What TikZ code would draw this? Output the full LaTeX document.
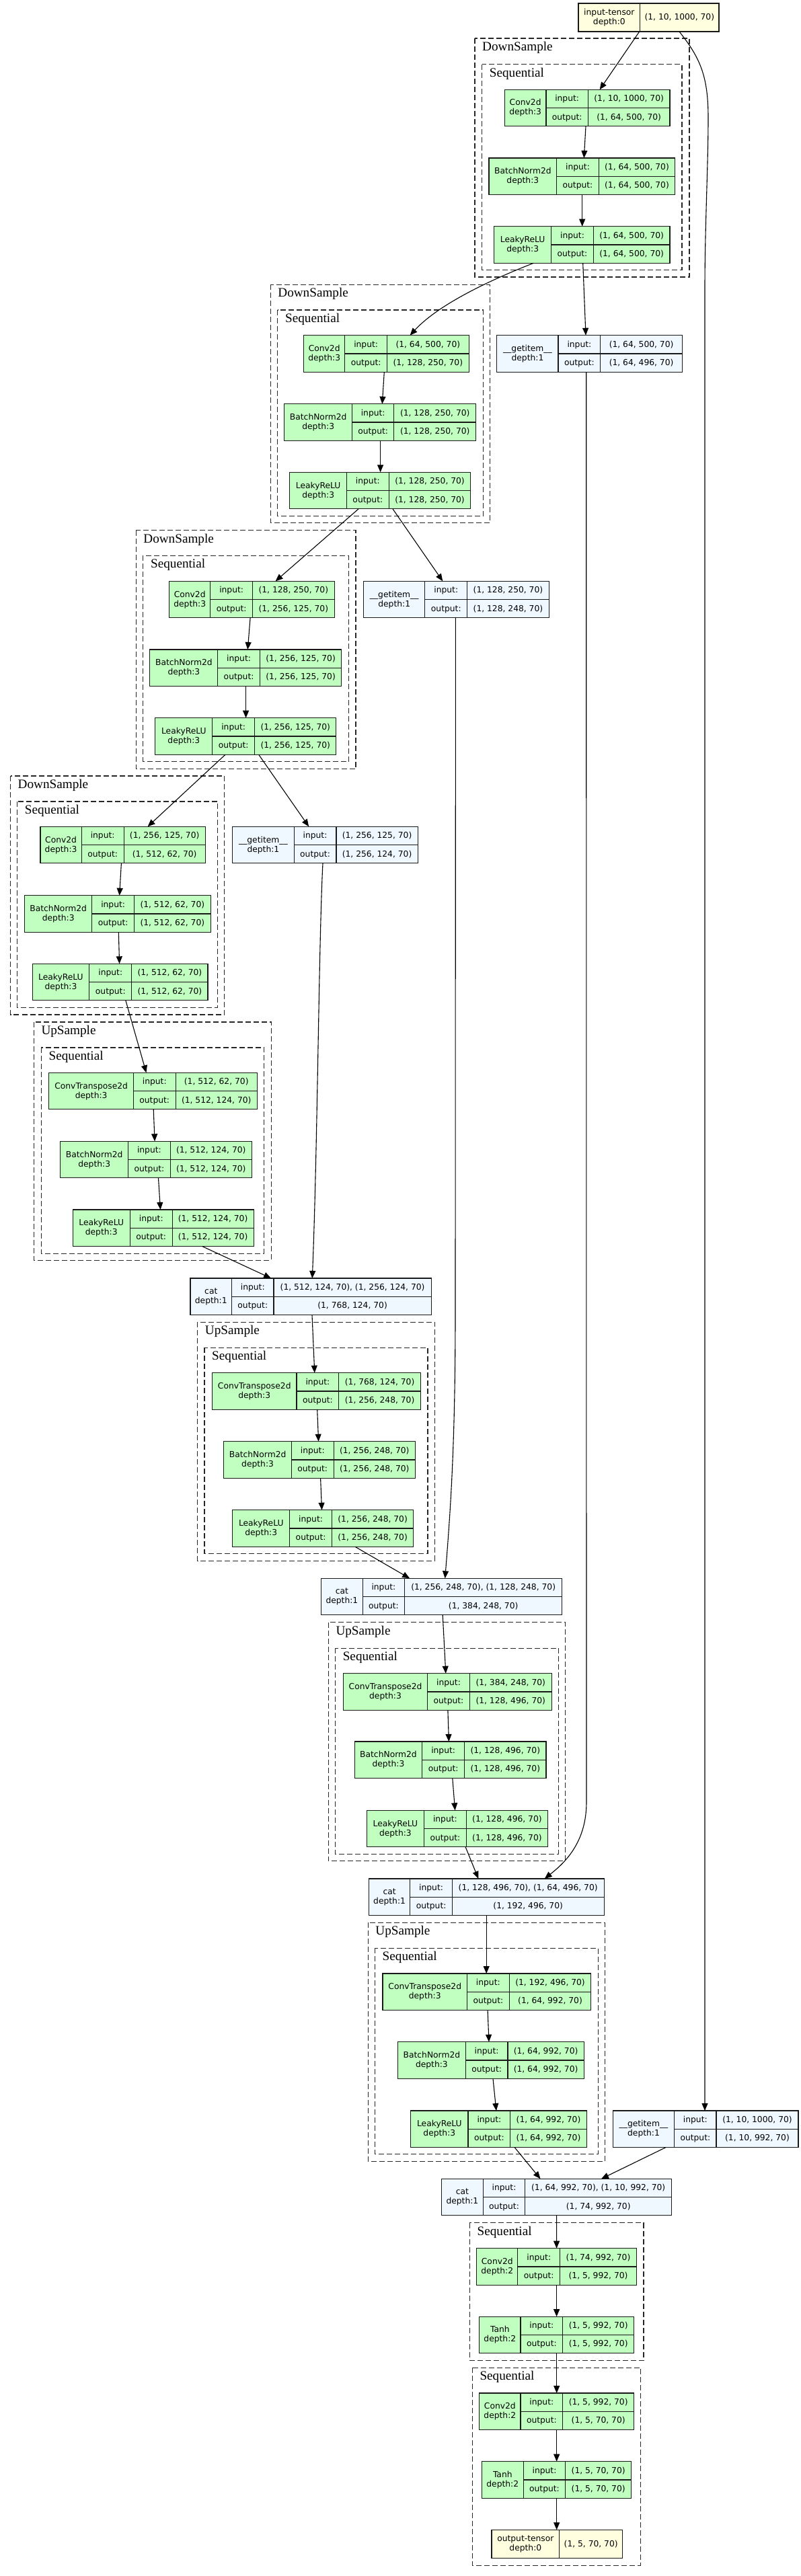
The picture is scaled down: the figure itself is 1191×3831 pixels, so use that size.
\documentclass[tikz,border=0pt]{standalone}
\usepackage{fontspec}
\newfontfamily\tvsans{DejaVu Sans}
\newfontfamily\tvserif{Liberation Serif}
\usetikzlibrary{arrows.meta}
\definecolor{tvgreen}{HTML}{C1FFC1}
\definecolor{tvblue}{HTML}{F0F8FF}
\definecolor{tvyellow}{HTML}{FFFFE0}
\tikzset{
 box/.style={draw=black!90, line width=1.1pt, inner sep=0pt, outer sep=0pt},
 divl/.style={draw=black!90, line width=1.1pt},
 txt/.style={font=\tvsans\fontsize{12.3}{14}\selectfont, inner sep=0pt, text height=9.3pt, text depth=1.7pt},
 ttl/.style={font=\tvsans\fontsize{12.3}{14}\selectfont, inner sep=0pt, align=center},
 clus/.style={draw=black!85, line width=1.05pt, dash pattern=on 8pt off 4pt},
 clab/.style={font=\tvserif\fontsize{19.2}{22}\selectfont, inner sep=0pt, anchor=base west},
 conn/.style={line width=1.1pt, -{Triangle[length=11pt,width=9pt]}},
}
\def\tvP#1,#2,#3,#4\relax{\def\tvxL{#1}\def\tvdA{#2}\def\tvdB{#3}\def\tvxR{#4}}
\def\tvQ#1,#2,#3\relax{\def\tvxL{#1}\def\tvdA{#2}\def\tvxR{#3}}
% name, fill, xL,d1,d2,xR, yT, title, in, out
\newcommand{\tvbox}[7]{%
 \tvP#3\relax
 \pgfmathsetmacro\tvW{\tvxR-\tvxL}%
 \pgfmathsetmacro\tvcA{(\tvxL+\tvdA)/2}%
 \pgfmathsetmacro\tvcB{(\tvdA+\tvdB)/2}%
 \pgfmathsetmacro\tvcC{(\tvdB+\tvxR)/2}%
 \node[box, fill=#2, minimum width=\tvW pt, minimum height=54.6pt, anchor=north west] (#1) at (\tvxL,#4) {};
 \draw[divl] (\tvdA,#4) -- ++(0,54.6);
 \draw[divl] (\tvdB,#4) -- ++(0,54.6);
 \draw[divl] (\tvdA,{#4+27.3}) -- (\tvxR,{#4+27.3});
 \node[ttl] (#1-t) at (\tvcA,{#4+27.3}) {#5};
 \node[txt] (#1-il) at (\tvcB,{#4+13.65}) {input:};
 \node[txt] (#1-ol) at (\tvcB,{#4+40.95}) {output:};
 \node[txt] (#1-iv) at (\tvcC,{#4+13.65}) {#6};
 \node[txt] (#1-ov) at (\tvcC,{#4+40.95}) {#7};
}
% name, xL,d,xR, yT, title, value
\newcommand{\tvio}[5]{%
 \tvQ#2\relax
 \pgfmathsetmacro\tvW{\tvxR-\tvxL}%
 \pgfmathsetmacro\tvcA{(\tvxL+\tvdA)/2}%
 \pgfmathsetmacro\tvcC{(\tvdA+\tvxR)/2}%
 \node[box, fill=tvyellow, minimum width=\tvW pt, minimum height=42pt, anchor=north west] (#1) at (\tvxL,#3) {};
 \draw[divl] (\tvdA,#3) -- ++(0,42);
 \node[ttl] (#1-t) at (\tvcA,{#3+21}) {#4};
 \node[txt] (#1-v) at (\tvcC,{#3+21}) {#5};
}
% name, l, t, r, b, label
\newcommand{\tvclus}[6]{%
 \draw[clus] (#2,#3) rectangle (#4,#5);
 \node[clab] (#1) at ({#2+11},{#3+18.5}) {#6};
}
\begin{document}
\begin{tikzpicture}[x=1pt,y=-1pt]
\useasboundingbox[fill=white] (0,0) rectangle (1191,3831);

% clusters
\tvclus{ds1}{706}{57}{1025}{412}{DownSample}
\tvclus{ds1s}{716.7}{95.7}{1014}{401.7}{Sequential}
\tvclus{ds2}{402.2}{423.3}{728.2}{777.7}{DownSample}
\tvclus{ds2s}{412.9}{461}{718.3}{767.7}{Sequential}
\tvclus{ds3}{202.2}{788.7}{529}{1143.3}{DownSample}
\tvclus{ds3s}{212.9}{826.3}{518.3}{1132.7}{Sequential}
\tvclus{ds4}{15.5}{1154}{333.9}{1509}{DownSample}
\tvclus{ds4s}{25.7}{1192}{323.7}{1498.7}{Sequential}
\tvclus{up1}{50.3}{1520}{403.1}{1874.3}{UpSample}
\tvclus{up1s}{61.4}{1558}{392.8}{1864}{Sequential}
\tvclus{up2}{293.7}{1966}{646.4}{2321.3}{UpSample}
\tvclus{up2s}{304}{2004.3}{636}{2310.7}{Sequential}
\tvclus{up3}{488.3}{2412.7}{840.7}{2767.7}{UpSample}
\tvclus{up3s}{498.6}{2451}{830.3}{2757.3}{Sequential}
\tvclus{up4}{547.2}{2859.3}{899.4}{3214.3}{UpSample}
\tvclus{up4s}{557.5}{2897}{889.2}{3203.7}{Sequential}
\tvclus{sq5}{698.4}{3305.7}{957}{3510.3}{Sequential}
\tvclus{sq6}{702.3}{3521}{952.7}{3815}{Sequential}

% nodes
\tvio{intensor}{860,951.7,1069}{5}{input-tensor\\depth:0}{(1, 10, 1000, 70)}
\tvbox{c1}{tvgreen}{750.3,812,874.3,996}{133.3}{Conv2d\\depth:3}{(1, 10, 1000, 70)}{(1, 64, 500, 70)}
\tvbox{b1}{tvgreen}{727,827.7,890.3,1003.7}{235}{BatchNorm2d\\depth:3}{(1, 64, 500, 70)}{(1, 64, 500, 70)}
\tvbox{l1}{tvgreen}{734.7,819.7,882.3,996}{336.7}{LeakyReLU\\depth:3}{(1, 64, 500, 70)}{(1, 64, 500, 70)}

\tvbox{c2}{tvgreen}{451.6,512.8,575.5,697.2}{498.7}{Conv2d\\depth:3}{(1, 64, 500, 70)}{(1, 128, 250, 70)}
\tvbox{b2}{tvgreen}{422.9,523.5,585.9,707.6}{600.7}{BatchNorm2d\\depth:3}{(1, 128, 250, 70)}{(1, 128, 250, 70)}
\tvbox{l2}{tvgreen}{430.9,515.5,578.2,699.9}{702.3}{LeakyReLU\\depth:3}{(1, 128, 250, 70)}{(1, 128, 250, 70)}
\tvbox{g1}{tvblue}{738.9,830,892.8,1014.4}{498.7}{\_\_getitem\_\_\\depth:1}{(1, 64, 500, 70)}{(1, 64, 496, 70)}

\tvbox{c3}{tvgreen}{251.6,312.8,375.5,497.2}{864.3}{Conv2d\\depth:3}{(1, 128, 250, 70)}{(1, 256, 125, 70)}
\tvbox{b3}{tvgreen}{222.9,323.9,386.3,507.9}{966}{BatchNorm2d\\depth:3}{(1, 256, 125, 70)}{(1, 256, 125, 70)}
\tvbox{l3}{tvgreen}{230.9,315.8,378.6,499.9}{1067.7}{LeakyReLU\\depth:3}{(1, 256, 125, 70)}{(1, 256, 125, 70)}
\tvbox{g2}{tvblue}{540.5,631.9,694.7,816.2}{864.3}{\_\_getitem\_\_\\depth:1}{(1, 128, 250, 70)}{(1, 128, 248, 70)}

\tvbox{c4}{tvgreen}{60,121.2,184.1,305.3}{1229.3}{Conv2d\\depth:3}{(1, 256, 125, 70)}{(1, 512, 62, 70)}
\tvbox{b4}{tvgreen}{36.7,136.7,199.6,313.1}{1331.7}{BatchNorm2d\\depth:3}{(1, 512, 62, 70)}{(1, 512, 62, 70)}
\tvbox{l4}{tvgreen}{48.2,132.7,195.9,309}{1433.3}{LeakyReLU\\depth:3}{(1, 512, 62, 70)}{(1, 512, 62, 70)}
\tvbox{g3}{tvblue}{345.7,437.1,500,621.2}{1229.3}{\_\_getitem\_\_\\depth:1}{(1, 256, 125, 70)}{(1, 256, 124, 70)}

\tvbox{t1}{tvgreen}{72.9,198.4,261.1,382.4}{1595.3}{ConvTranspose2d\\depth:3}{(1, 512, 62, 70)}{(1, 512, 124, 70)}
\tvbox{b5}{tvgreen}{89.7,190.7,253.1,374.4}{1697.3}{BatchNorm2d\\depth:3}{(1, 512, 124, 70)}{(1, 512, 124, 70)}
\tvbox{l5}{tvgreen}{108.1,193.4,256.1,377.1}{1799}{LeakyReLU\\depth:3}{(1, 512, 124, 70)}{(1, 512, 124, 70)}

\tvbox{cat1}{tvblue}{283,344.6,407,641.2}{1901}{cat\\depth:1}{(1, 512, 124, 70), (1, 256, 124, 70)}{(1, 768, 124, 70)}

\tvbox{t2}{tvgreen}{315.5,441,503.8,625.5}{2041.7}{ConvTranspose2d\\depth:3}{(1, 768, 124, 70)}{(1, 256, 248, 70)}
\tvbox{b6}{tvgreen}{332.8,433.4,496.1,617.4}{2143.7}{BatchNorm2d\\depth:3}{(1, 256, 248, 70)}{(1, 256, 248, 70)}
\tvbox{l6}{tvgreen}{345.8,430.7,493.5,614.8}{2245.7}{LeakyReLU\\depth:3}{(1, 256, 248, 70)}{(1, 256, 248, 70)}

\tvbox{cat2}{tvblue}{477.6,539.2,601.6,835.8}{2347.3}{cat\\depth:1}{(1, 256, 248, 70), (1, 128, 248, 70)}{(1, 384, 248, 70)}

\tvbox{t3}{tvgreen}{510.5,635.6,698.4,820.1}{2488.7}{ConvTranspose2d\\depth:3}{(1, 384, 248, 70)}{(1, 128, 496, 70)}
\tvbox{b7}{tvgreen}{527.3,627.6,690.7,812}{2590}{BatchNorm2d\\depth:3}{(1, 128, 496, 70)}{(1, 128, 496, 70)}
\tvbox{l7}{tvgreen}{545.3,630.5,693.3,814.6}{2692.3}{LeakyReLU\\depth:3}{(1, 128, 496, 70)}{(1, 128, 496, 70)}

\tvbox{cat3}{tvblue}{548.3,609.9,672.3,898.1}{2794}{cat\\depth:1}{(1, 128, 496, 70), (1, 64, 496, 70)}{(1, 192, 496, 70)}

\tvbox{t4}{tvgreen}{569,694.5,757.2,878.9}{2935}{ConvTranspose2d\\depth:3}{(1, 192, 496, 70)}{(1, 64, 992, 70)}
\tvbox{b8}{tvgreen}{591.6,692.2,755,868.2}{3036.7}{BatchNorm2d\\depth:3}{(1, 64, 992, 70)}{(1, 64, 992, 70)}
\tvbox{l8}{tvgreen}{610.7,696,758.8,872.3}{3139}{LeakyReLU\\depth:3}{(1, 64, 992, 70)}{(1, 64, 992, 70)}
\tvbox{g4}{tvblue}{911.3,1002.7,1065,1187}{3139}{\_\_getitem\_\_\\depth:1}{(1, 10, 1000, 70)}{(1, 10, 992, 70)}

\tvbox{cat4}{tvblue}{656.6,718.2,780.9,998.6}{3240.3}{cat\\depth:1}{(1, 64, 992, 70), (1, 10, 992, 70)}{(1, 74, 992, 70)}

\tvbox{c5}{tvgreen}{708.9,769.7,832.8,946.3}{3343.7}{Conv2d\\depth:2}{(1, 74, 992, 70)}{(1, 5, 992, 70)}
\tvbox{t5}{tvgreen}{712.7,774,836.7,942.7}{3445.2}{Tanh\\depth:2}{(1, 5, 992, 70)}{(1, 5, 992, 70)}
\tvbox{c6}{tvgreen}{712.7,774,836.7,942.7}{3559}{Conv2d\\depth:2}{(1, 5, 992, 70)}{(1, 5, 70, 70)}
\tvbox{t6}{tvgreen}{716.3,778.3,840.7,938.7}{3660.7}{Tanh\\depth:2}{(1, 5, 70, 70)}{(1, 5, 70, 70)}
\tvio{outtensor}{731,831.7,925.7}{3762.3}{output-tensor\\depth:0}{(1, 5, 70, 70)}

% connectors
\draw[conn] ([xshift=90.7pt]intensor.south west) -- ([xshift=141.4pt]c1.north west);
\coordinate (k1) at (1053,175);
\coordinate (k2) at (1048,430);
\draw[conn] ([xshift=150pt]intensor.south west) .. controls +(32,40) and +(0,-60) .. (k1)
  .. controls +(0,70) and +(0,-90) .. (k2) -- ([xshift=136.7pt]g4.north west);
\draw[conn] ([xshift=120.7pt]c1.south west) -- ([xshift=141.3pt]b1.north west);
\draw[conn] ([xshift=138.7pt]b1.south west) -- ([xshift=131pt]l1.north west);
\draw[conn] ([xshift=58.6pt]l1.south west) .. controls +(-73.3,28.7) and +(40.4,-43.7) .. ([xshift=158pt]c2.north west);
\draw[conn] ([xshift=132pt]l1.south west) -- ([xshift=132.1pt]g1.north west);

\draw[conn] ([xshift=119.7pt]c2.south west) -- ([xshift=145.4pt]b2.north west);
\draw[conn] ([xshift=142.7pt]b2.south west) -- ([xshift=134.7pt]l2.north west);
\draw[conn] ([xshift=102.1pt]l2.south west) -- ([xshift=158pt]c3.north west);
\draw[conn] ([xshift=153.1pt]l2.south west) -- ([xshift=117.8pt]g2.north west);
\coordinate (k3) at (872,2680);
\draw[conn] ([xshift=132.8pt]g1.south west) -- (k3) .. controls +(0,60) and +(30.3,-24) .. ([xshift=261.4pt]cat3.north west);

\draw[conn] ([xshift=120.5pt]c3.south west) -- ([xshift=145.4pt]b3.north west);
\draw[conn] ([xshift=142.7pt]b3.south west) -- ([xshift=134.7pt]l3.north west);
\draw[conn] ([xshift=104.1pt]l3.south west) -- ([xshift=159.6pt]c4.north west);
\draw[conn] ([xshift=153.8pt]l3.south west) -- ([xshift=113.5pt]g3.north west);
\coordinate (k4) at (677,1950);
\draw[conn] ([xshift=136.9pt]g2.south west) -- (k4) .. controls +(0,200) and +(8,-100) .. ([xshift=184.1pt]cat2.north west);

\draw[conn] ([xshift=120.4pt]c4.south west) -- ([xshift=140.9pt]b4.north west);
\draw[conn] ([xshift=139.6pt]b4.south west) -- ([xshift=129.4pt]l4.north west);
\draw[conn] ([xshift=138.7pt]l4.south west) -- ([xshift=144.6pt]t1.north west);
\draw[conn] ([xshift=134.3pt]g3.south west) .. controls +(-6,115) and +(8,-200) .. ([xshift=181.3pt]cat1.north west);

\draw[conn] ([xshift=155.3pt]t1.south west) -- ([xshift=140.4pt]b5.north west);
\draw[conn] ([xshift=145.8pt]b5.south west) -- ([xshift=130.4pt]l5.north west);
\draw[conn] ([xshift=192.8pt]l5.south west) -- ([xshift=120.1pt]cat1.north west);

\draw[conn] ([xshift=181pt]cat1.south west) -- ([xshift=152.3pt]t2.north west);
\draw[conn] ([xshift=156.2pt]t2.south west) -- ([xshift=140.8pt]b6.north west);
\draw[conn] ([xshift=143.8pt]b6.south west) -- ([xshift=132.7pt]l6.north west);
\draw[conn] ([xshift=182.3pt]l6.south west) -- ([xshift=131.6pt]cat2.north west);

\draw[conn] ([xshift=180.6pt]cat2.south west) -- ([xshift=152.3pt]t3.north west);
\draw[conn] ([xshift=155.4pt]t3.south west) -- ([xshift=140.1pt]b7.north west);
\draw[conn] ([xshift=145.5pt]b7.south west) -- ([xshift=131.3pt]l7.north west);
\draw[conn] ([xshift=146.9pt]l7.south west) -- ([xshift=163pt]cat3.north west);

\draw[conn] ([xshift=174.9pt]cat3.south west) -- ([xshift=154.2pt]t4.north west);
\draw[conn] ([xshift=156.1pt]t4.south west) -- ([xshift=135.4pt]b8.north west);
\draw[conn] ([xshift=141.4pt]b8.south west) -- ([xshift=127.2pt]l8.north west);
\draw[conn] ([xshift=154.5pt]l8.south west) -- ([xshift=146.9pt]cat4.north west);
\draw[conn] ([xshift=78.5pt]g4.south west) -- ([xshift=237.4pt]cat4.north west);

\draw[conn] ([xshift=171pt]cat4.south west) -- ([xshift=118.7pt]c5.north west);
\draw[conn] ([xshift=118.7pt]c5.south west) -- ([xshift=114.9pt]t5.north west);
\draw[conn] ([xshift=115pt]t5.south west) -- ([xshift=115pt]c6.north west);
\draw[conn] ([xshift=115pt]c6.south west) -- ([xshift=111.4pt]t6.north west);
\draw[conn] ([xshift=111.4pt]t6.south west) -- ([xshift=96.7pt]outtensor.north west);
\end{tikzpicture}
\end{document}
